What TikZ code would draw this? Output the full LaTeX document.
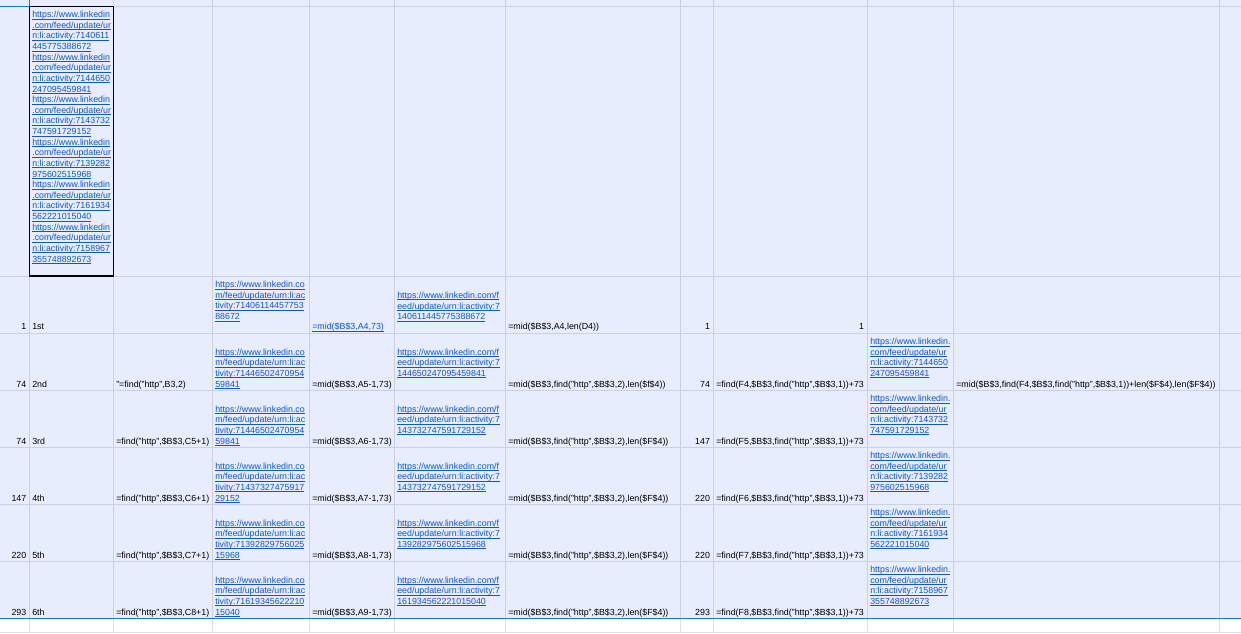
\documentclass[tikz,border=0pt]{standalone}
\usepackage{fontspec}
\setmainfont{Liberation Sans}
\definecolor{sel}{HTML}{E7EDFC}
\definecolor{gridc}{HTML}{CAD1E4}
\definecolor{gridw}{HTML}{E0E0E0}
\definecolor{selb}{HTML}{1A73E8}
\definecolor{lnkc}{HTML}{1155CC}
\tikzset{
  txt/.style={inner sep=0pt, outer sep=0pt, font=\fontsize{8.85}{10.6}\selectfont, text=black},
  lnkst/.style={txt, text=lnkc},
  ulst/.style={draw=lnkc, line width=0.75pt},
  gridst/.style={draw=gridc, line width=1pt},
  gridwst/.style={draw=gridw, line width=1pt},
  selst/.style={draw=selb, line width=1.6pt},
}
\newcommand\cellL[4]{\node[txt,anchor=base west] (#1) at (#2,#3) {#4};}
\newcommand\cellR[4]{\node[txt,anchor=base east] (#1) at (#2,#3) {#4};}
\newcommand\celllink[4]{\node[lnkst,anchor=base west] (#1) at (#2,#3) {#4};
  \draw[ulst] ([yshift=-1.4pt]#1.base west) -- ([yshift=-1.4pt]#1.base east);}
\newcommand\celllinks[5]{\foreach \t [count=\i from 0] in {#5} {\celllink{#1\i}{#2}{{#3+#4*\i}}{\t}}}
\begin{document}
\begin{tikzpicture}[x=1pt,y=-1pt]
\useasboundingbox (0,0) rectangle (1241,633);
\fill[sel] (0,0) rectangle (1241,618.5);
\fill[white] (0,618.5) rectangle (1241,633);
\foreach \y in {6.5,276,333.3,390.5,447.5,504.5,561.5} {\draw[gridst] (0,\y) -- (1241,\y);}
\draw[gridwst] (0,632) -- (1241,632);
\foreach \x in {29.3,113.3,212.3,309.3,394.3,505.5,680.3,713.3,867.5,953.5,1219.3} {%
  \draw[gridst] (\x,0) -- (\x,618.5);
  \draw[gridwst] (\x,618.5) -- (\x,633);}
\draw[selst] (0,618.5) -- (1241,618.5);
\draw[selst] (0,6.5) -- (29.3,6.5) -- (29.3,0);
\draw[black, line width=1.3pt] (29.3,6.5) rectangle (113.3,276);
% B3
\celllinks{bl}{32.3}{17.6}{10.63}{https://www.linkedin,.com/feed/update/ur,n:li:activity:7140611,445775388672,%
https://www.linkedin,.com/feed/update/ur,n:li:activity:7144650,247095459841,%
https://www.linkedin,.com/feed/update/ur,n:li:activity:7143732,747591729152,%
https://www.linkedin,.com/feed/update/ur,n:li:activity:7139282,975602515968,%
https://www.linkedin,.com/feed/update/ur,n:li:activity:7161934,562221015040,%
https://www.linkedin,.com/feed/update/ur,n:li:activity:7158967,355748892673}
% Row 4
\cellR{a4}{26.3}{329.8}{1}
\cellL{b4}{32.3}{329.8}{1st}
\celllinks{dl4x}{215.3}{287.7}{10.6}{https://www.linkedin.co,m/feed/update/urn:li:ac,tivity:71406114457753,88672}
\celllink{e4}{312.3}{329.8}{=mid(\$B\$3,A4,73)}
\celllinks{fl4x}{397.3}{298.4}{10.6}{https://www.linkedin.com/f,eed/update/urn:li:activity:7,140611445775388672}
\cellL{g4}{508.3}{329.8}{=mid(\$B\$3,A4,len(D4))}
\cellR{h4}{710}{329.8}{1}
\cellR{i4}{864}{329.8}{1}
% Row 5
\cellR{a5}{26.3}{387}{74}
\cellL{b5}{32.3}{387}{2nd}
\cellL{c5}{116.3}{387}{"=find("http",B3,2)}
\celllinks{dl5x}{215.3}{355.2}{10.6}{https://www.linkedin.co,m/feed/update/urn:li:ac,tivity:71446502470954,59841}
\cellL{e5}{312.3}{387}{=mid(\$B\$3,A5-1,73)}
\celllinks{fl5x}{397.3}{355.2}{10.6}{https://www.linkedin.com/f,eed/update/urn:li:activity:7,144650247095459841}
\cellL{g5}{508.3}{387}{=mid(\$B\$3,find("http",\$B\$3,2),len(\$f\$4))}
\cellR{h5}{710}{387}{74}
\cellL{i5}{716.3}{387}{=find(F4,\$B\$3,find("http",\$B\$3,1))+73}
\celllinks{jl5x}{870.3}{344.6}{10.6}{https://www.linkedin.,com/feed/update/ur,n:li:activity:7144650,247095459841}
\cellL{k5}{956.3}{387}{=mid(\$B\$3,find(F4,\$B\$3,find("http",\$B\$3,1))+len(\$F\$4),len(\$F\$4))}
% Row 6
\cellR{a6}{26.3}{444}{74}
\cellL{b6}{32.3}{444}{3rd}
\cellL{c6}{116.3}{444}{=find("http",\$B\$3,C5+1)}
\celllinks{dl6x}{215.3}{412.2}{10.6}{https://www.linkedin.co,m/feed/update/urn:li:ac,tivity:71446502470954,59841}
\cellL{e6}{312.3}{444}{=mid(\$B\$3,A6-1,73)}
\celllinks{fl6x}{397.3}{412.2}{10.6}{https://www.linkedin.com/f,eed/update/urn:li:activity:7,143732747591729152}
\cellL{g6}{508.3}{444}{=mid(\$B\$3,find("http",\$B\$3,2),len(\$F\$4))}
\cellR{h6}{710}{444}{147}
\cellL{i6}{716.3}{444}{=find(F5,\$B\$3,find("http",\$B\$3,1))+73}
\celllinks{jl6x}{870.3}{401.6}{10.6}{https://www.linkedin.,com/feed/update/ur,n:li:activity:7143732,747591729152}
% Row 7
\cellR{a7}{26.3}{501}{147}
\cellL{b7}{32.3}{501}{4th}
\cellL{c7}{116.3}{501}{=find("http",\$B\$3,C6+1)}
\celllinks{dl7x}{215.3}{469.2}{10.6}{https://www.linkedin.co,m/feed/update/urn:li:ac,tivity:71437327475917,29152}
\cellL{e7}{312.3}{501}{=mid(\$B\$3,A7-1,73)}
\celllinks{fl7x}{397.3}{469.2}{10.6}{https://www.linkedin.com/f,eed/update/urn:li:activity:7,143732747591729152}
\cellL{g7}{508.3}{501}{=mid(\$B\$3,find("http",\$B\$3,2),len(\$F\$4))}
\cellR{h7}{710}{501}{220}
\cellL{i7}{716.3}{501}{=find(F6,\$B\$3,find("http",\$B\$3,1))+73}
\celllinks{jl7x}{870.3}{458.6}{10.6}{https://www.linkedin.,com/feed/update/ur,n:li:activity:7139282,975602515968}
% Row 8
\cellR{a8}{26.3}{558}{220}
\cellL{b8}{32.3}{558}{5th}
\cellL{c8}{116.3}{558}{=find("http",\$B\$3,C7+1)}
\celllinks{dl8x}{215.3}{526.2}{10.6}{https://www.linkedin.co,m/feed/update/urn:li:ac,tivity:71392829756025,15968}
\cellL{e8}{312.3}{558}{=mid(\$B\$3,A8-1,73)}
\celllinks{fl8x}{397.3}{526.2}{10.6}{https://www.linkedin.com/f,eed/update/urn:li:activity:7,139282975602515968}
\cellL{g8}{508.3}{558}{=mid(\$B\$3,find("http",\$B\$3,2),len(\$F\$4))}
\cellR{h8}{710}{558}{220}
\cellL{i8}{716.3}{558}{=find(F7,\$B\$3,find("http",\$B\$3,1))+73}
\celllinks{jl8x}{870.3}{515.6}{10.6}{https://www.linkedin.,com/feed/update/ur,n:li:activity:7161934,562221015040}
% Row 9
\cellR{a9}{26.3}{615}{293}
\cellL{b9}{32.3}{615}{6th}
\cellL{c9}{116.3}{615}{=find("http",\$B\$3,C8+1)}
\celllinks{dl9x}{215.3}{583.2}{10.6}{https://www.linkedin.co,m/feed/update/urn:li:ac,tivity:71619345622210,15040}
\cellL{e9}{312.3}{615}{=mid(\$B\$3,A9-1,73)}
\celllinks{fl9x}{397.3}{583.2}{10.6}{https://www.linkedin.com/f,eed/update/urn:li:activity:7,161934562221015040}
\cellL{g9}{508.3}{615}{=mid(\$B\$3,find("http",\$B\$3,2),len(\$F\$4))}
\cellR{h9}{710}{615}{293}
\cellL{i9}{716.3}{615}{=find(F8,\$B\$3,find("http",\$B\$3,1))+73}
\celllinks{jl9x}{870.3}{572.6}{10.6}{https://www.linkedin.,com/feed/update/ur,n:li:activity:7158967,355748892673}
\end{tikzpicture}
\end{document}
